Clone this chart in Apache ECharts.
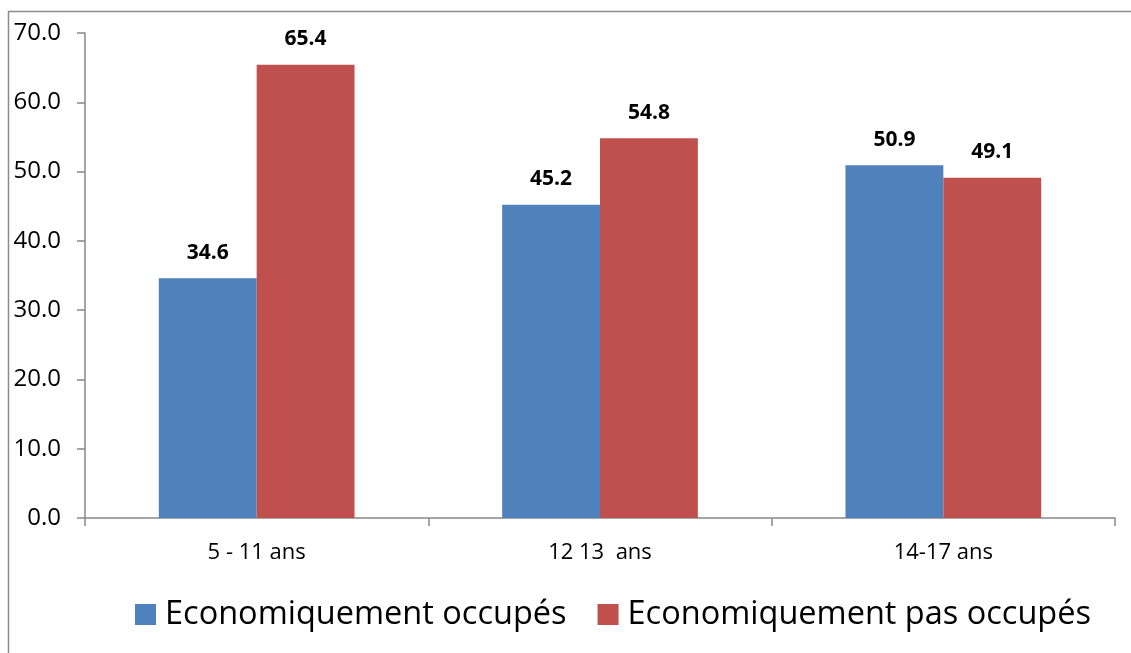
<!DOCTYPE html>
<html>
<head>
<meta charset="utf-8">
<script src="https://cdn.jsdelivr.net/npm/echarts@6/dist/echarts.min.js"></script>
<style>
  html, body { margin: 0; padding: 0; background: #fff; }
  #chart { width: 1131px; height: 653px; }
</style>
</head>
<body>
<div id="chart"></div>
<script>
// Age groups on the category axis
const categories = ['5 - 11 ans', '12 13  ans', '14-17 ans'];
// Share of children (%) per group
const occupes = [34.6, 45.2, 50.9];
const pasOccupes = [65.4, 54.8, 49.1];
const seriesNames = ['Economiquement occupés', 'Economiquement pas occupés'];

const FONT = '"Open Sans", "Noto Sans", sans-serif';
const AXIS_COLOR = '#888888';

const chart = echarts.init(document.getElementById('chart'), null, { renderer: 'canvas' });

const labelStyle = {
  show: true,
  position: 'top',
  distance: 15,
  fontFamily: FONT,
  fontWeight: 'bold',
  fontSize: 21,
  color: '#000',
  formatter: p => p.value.toFixed(1)
};

chart.setOption({
  animation: false,
  backgroundColor: '#fff',
  graphic: [{
    type: 'rect',
    shape: { x: 8.5, y: 11.5, width: 1200, height: 700 },
    style: { fill: 'none', stroke: '#8c8c8c', lineWidth: 1.5 },
    silent: true
  }],
  grid: { left: 85, right: 16, top: 33, bottom: 135, containLabel: false },
  legend: {
    left: 135,
    top: 598,
    padding: 0,
    icon: 'rect',
    itemWidth: 21,
    itemHeight: 21,
    itemGap: 31,
    itemStyle: { borderWidth: 0 },
    textStyle: { fontFamily: FONT, fontSize: 32.5, color: '#000', padding: [0, 0, 0, 4] },
    data: seriesNames
  },
  xAxis: {
    type: 'category',
    data: categories,
    axisLine: { lineStyle: { color: AXIS_COLOR, width: 1.5 } },
    axisTick: { show: true, length: 8, alignWithLabel: false, lineStyle: { color: AXIS_COLOR, width: 1.5 } },
    axisLabel: { margin: 24, fontFamily: FONT, fontSize: 22, color: '#000' },
    splitLine: { show: false }
  },
  yAxis: {
    type: 'value',
    min: 0,
    max: 70,
    interval: 10,
    axisLine: { show: true, lineStyle: { color: AXIS_COLOR, width: 1.5 } },
    axisTick: { show: true, length: 8, lineStyle: { color: AXIS_COLOR, width: 1.5 } },
    axisLabel: { margin: 24, fontFamily: FONT, fontSize: 24, color: '#000', formatter: v => v.toFixed(1) },
    splitLine: { show: false }
  },
  series: [
    {
      name: seriesNames[0],
      type: 'bar',
      data: occupes,
      itemStyle: { color: '#4F81BD' },
      barGap: '0%',
      barCategoryGap: '43%',
      label: labelStyle
    },
    {
      name: seriesNames[1],
      type: 'bar',
      data: pasOccupes,
      itemStyle: { color: '#C0504D' },
      barGap: '0%',
      barCategoryGap: '43%',
      label: labelStyle
    }
  ]
});
</script>
</body>
</html>
